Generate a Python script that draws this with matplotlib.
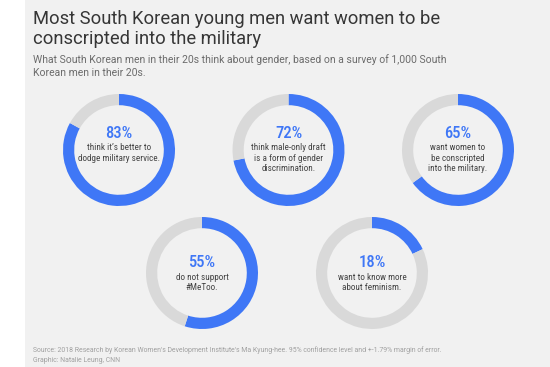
import matplotlib
matplotlib.use("Agg")
import matplotlib.pyplot as plt
from matplotlib.patches import Rectangle

W, H = 550, 367

# data
pcts = [83, 72, 65, 55, 18]
captions = [
    "think it\u2019s better to\ndodge military service.",
    "think male-only draft\nis a form of gender\ndiscrimination.",
    "want women to\nbe conscripted\ninto the military.",
    "do not support\n#MeToo.",
    "want to know more\nabout feminism.",
]
# donut centres in pixels (x, y from top) and offset of the % label
centres = [(119, 150), (288.5, 150), (458, 150), (202, 273), (372, 273)]
label_off = [16.5, 16.5, 16.5, 10.5, 10.5]
R = 56

BLUE = "#3f77f6"
GREY = "#d9d9d9"
BG = "#f1f1f1"

fig = plt.figure(figsize=(W / 100, H / 100), dpi=100)
fig.patch.set_facecolor("white")
fig.patches.append(Rectangle((25 / W, 0), 1 - 25 / W, 1, transform=fig.transFigure,
                             facecolor=BG, edgecolor="none", zorder=-10))


def fx(px):
    return px / W


def fy(py):
    return 1 - py / H


fig.text(fx(33), fy(24), "Most South Korean young men want women to be",
         family="Roboto", fontsize=13.2, color="#363636", va="baseline")
fig.text(fx(33), fy(44), "conscripted into the military",
         family="Roboto", fontsize=13.2, color="#363636", va="baseline")
fig.text(fx(33), fy(63), "What South Korean men in their 20s think about gender, based on a survey of 1,000 South",
         family="Roboto", fontsize=7.45, color="#6b6b6b", va="baseline")
fig.text(fx(33), fy(76), "Korean men in their 20s.",
         family="Roboto", fontsize=7.45, color="#6b6b6b", va="baseline")
fig.text(fx(33), fy(352.5), "Source: 2018 Research by Korean Women's Development Institute's Ma Kyung-hee. 95% confidence level and +-1.79% margin of error.",
         family="Roboto", fontsize=4.95, color="#a0a0a0", va="baseline")
fig.text(fx(33), fy(361.5), "Graphic: Natalie Leung, CNN",
         family="Roboto", fontsize=4.95, color="#a0a0a0", va="baseline")

for p, cap, (cx, cy), off in zip(pcts, captions, centres, label_off):
    ax = fig.add_axes([fx(cx - R), fy(cy + R), 2 * R / W, 2 * R / H])
    ax.pie([p, 100 - p], colors=[BLUE, GREY], startangle=90, counterclock=False,
           radius=1, wedgeprops=dict(width=0.2, edgecolor="none"))
    ax.set_xlim(-1, 1)
    ax.set_ylim(-1, 1)
    ax.set_aspect("auto")
    ax.axis("off")
    fig.text(fx(cx), fy(cy - off), f"{p}%", family="Roboto Condensed", fontweight="medium",
             fontsize=12, color=BLUE, ha="center", va="center")
    fig.text(fx(cx), fy(cy - off + 10), cap, family="Roboto Condensed",
             fontsize=6.6, color="#444444", ha="center", va="top", linespacing=1.2)

fig.savefig("out.png", dpi=100, facecolor=fig.get_facecolor())
